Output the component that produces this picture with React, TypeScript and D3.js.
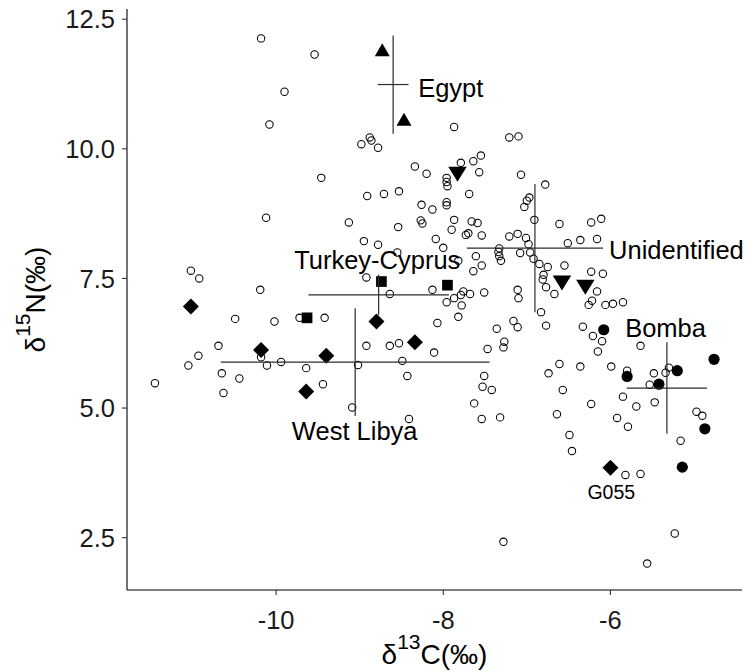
import React from 'react';
import * as d3 from 'd3';

const WIDTH = 746;
const HEIGHT = 672;
const M = { top: 9, right: 4, bottom: 82, left: 127 };

// Reference samples (open circles): δ13C and δ15N
const openC = [
  -10.18, -9.54, -9.90, -10.08, -9.46,
  -7.87, -8.98, -8.88, -8.86, -8.78,
  -7.21, -7.10, -7.55, -7.64, -7.79,
  -8.34, -8.20, -7.57, -7.96, -7.96,
  -7.95, -7.07, -6.78, -8.91, -8.71,
  -8.53, -7.69, -6.97, -7.00, -7.03,
  -8.26, -8.13, -7.96, -7.96, -9.13,
  -8.54, -8.27, -8.25, -7.87, -7.90,
  -7.66, -7.59, -7.73, -7.70, -7.54,
  -6.91, -6.61, -8.95, -8.78, -8.09,
  -8.00, -7.21, -7.11, -7.01, -6.98,
  -6.51, -6.36, -6.16, -6.23, -6.11,
  -7.33, -7.34, -7.33, -7.31, -7.08,
  -6.96, -6.92, -6.85, -6.75, -6.55,
  -8.55, -7.61, -7.54, -7.64, -7.82,
  -8.92, -6.80, -6.81, -6.77, -6.67,
  -8.13, -8.64, -7.76, -7.79, -7.87,
  -7.96, -7.68, -7.51, -7.78, -7.82,
  -7.11, -7.10, -6.83, -6.77, -8.07,
  -7.16, -7.11, -7.36, -7.27, -7.28,
  -7.47, -8.92, -8.64, -8.53, -8.11,
  -9.02, -8.49, -8.43, -7.51, -6.61,
  -6.74, -6.36, -6.23, -6.09, -6.16,
  -6.22, -6.26, -6.06, -5.97, -5.85,
  -6.33, -6.21, -6.10, -6.15, -5.64,
  -5.99, -5.80, -5.48, -5.34, -5.30,
  -10.12, -11.02, -10.92, -10.19, -10.49,
  -10.02, -9.72, -9.42, -10.69, -10.93,
  -11.05, -10.18, -10.11, -9.94, -9.64,
  -10.65, -10.44, -11.45, -10.63, -9.44,
  -9.09, -8.41, -7.53, -7.42, -7.63,
  -7.54, -7.32, -7.28, -6.57, -6.64,
  -6.49, -6.46, -5.85, -5.69, -5.47,
  -6.23, -5.92, -5.79, -5.53, -4.97,
  -4.90, -5.16, -5.82, -5.64, -5.23,
  -5.56,
];
const openN = [
  12.13, 11.82, 11.10, 10.47, 9.44,
  10.42, 10.09, 10.22, 10.16, 10.02,
  10.22, 10.24, 9.87, 9.76, 9.73,
  9.66, 9.52, 9.55, 9.44, 9.36,
  9.28, 9.50, 9.31, 9.09, 9.13,
  9.18, 9.13, 9.06, 9.00, 8.88,
  8.92, 8.83, 8.97, 8.91, 8.58,
  8.49, 8.62, 8.56, 8.63, 8.44,
  8.60, 8.57, 8.34, 8.37, 8.33,
  8.63, 8.55, 8.22, 8.15, 8.26,
  8.09, 8.31, 8.36, 8.28, 8.16,
  8.18, 8.24, 8.26, 8.58, 8.65,
  8.08, 8.01, 7.93, 7.84, 7.99,
  8.00, 7.88, 7.78, 7.72, 7.75,
  8.00, 7.93, 7.75, 7.64, 7.84,
  7.52, 7.57, 7.48, 7.33, 7.20,
  7.28, 7.20, 7.25, 7.18, 7.12,
  7.04, 7.20, 7.23, 6.98, 6.76,
  7.28, 7.12, 6.85, 6.59, 6.64,
  6.68, 6.56, 6.53, 6.28, 6.17,
  6.14, 6.20, 6.20, 6.25, 6.07,
  5.83, 5.91, 5.62, 5.62, 5.85,
  5.67, 5.80, 7.63, 7.59, 7.25,
  7.07, 6.99, 6.99, 7.01, 7.04,
  6.57, 6.39, 6.29, 6.09, 6.20,
  5.80, 5.72, 5.67, 5.68, 5.78,
  8.67, 7.65, 7.50, 7.28, 6.72,
  6.67, 6.74, 6.74, 6.20, 6.01,
  5.82, 5.98, 5.82, 5.89, 5.77,
  5.67, 5.57, 5.48, 5.29, 5.46,
  5.01, 4.79, 5.41, 5.35, 5.09,
  4.79, 4.82, 2.42, 5.35, 4.88,
  4.48, 4.17, 5.22, 5.03, 5.11,
  5.08, 4.81, 4.64, 5.45, 4.93,
  4.85, 4.37, 3.71, 3.73, 2.58,
  2.00,
];

// Known-origin groups
const egyptC = [-8.73, -8.47];
const egyptN = [11.91, 10.57];
const unidentifiedC = [-7.83, -6.58, -6.30];
const unidentifiedN = [9.51, 7.41, 7.33];
const turkeyCyprusC = [-9.63, -8.74, -7.95];
const turkeyCyprusN = [6.74, 7.44, 7.37];
const westLibyaC = [-11.02, -10.18, -9.40, -9.64, -8.80, -8.34, -6.00];
const westLibyaN = [6.96, 6.12, 6.01, 5.32, 6.67, 6.27, 3.85];
const bombaC = [-6.08, -5.80, -5.42, -5.20, -4.76, -4.87, -5.14];
const bombaN = [6.51, 5.61, 5.46, 5.72, 5.94, 4.60, 3.86];

// Text annotations
const labelText = ['Egypt', 'Unidentified', 'Turkey-Cyprus', 'West Libya', 'Bomba', 'G055'];
const labelC = [-7.91, -5.21, -8.79, -9.06, -5.34, -5.99];
const labelN = [11.17, 8.06, 7.86, 4.56, 6.54, 3.39];

const xTicks = [-10, -8, -6];
const yTicks = [2.5, 5, 7.5, 10, 12.5];

type Shape = 'circle' | 'triUp' | 'triDown' | 'square' | 'diamond';

const groups: { c: number[]; n: number[]; shape: Shape }[] = [
  { c: egyptC, n: egyptN, shape: 'triUp' },
  { c: unidentifiedC, n: unidentifiedN, shape: 'triDown' },
  { c: turkeyCyprusC, n: turkeyCyprusN, shape: 'square' },
  { c: westLibyaC, n: westLibyaN, shape: 'diamond' },
  { c: bombaC, n: bombaN, shape: 'circle' },
];

function shapePath(shape: Shape): string {
  switch (shape) {
    case 'triUp':
      return 'M0,-6.5L7.5,6.5L-7.5,6.5Z';
    case 'triDown':
      return 'M0,7.5L9.25,-7.5L-9.25,-7.5Z';
    case 'square':
      return 'M-5.35,-5.35H5.35V5.35H-5.35Z';
    case 'diamond':
      return 'M0,-8L8,0L0,8L-8,0Z';
    default:
      return d3.symbol(d3.symbolCircle, Math.PI * 5.6 * 5.6)() as string;
  }
}

const FONT = '"Liberation Sans", Arial, Helvetica, sans-serif';

export default function App() {
  const stats = groups.map((g) => ({
    mc: d3.mean(g.c) as number,
    mn: d3.mean(g.n) as number,
    sc: d3.deviation(g.c) as number,
    sn: d3.deviation(g.n) as number,
  }));

  const allC = [
    ...openC,
    ...groups.flatMap((g) => g.c),
    ...stats.flatMap((s) => [s.mc - s.sc, s.mc + s.sc]),
  ];
  const allN = [
    ...openN,
    ...groups.flatMap((g) => g.n),
    ...stats.flatMap((s) => [s.mn - s.sn, s.mn + s.sn]),
  ];
  const [c0, c1] = d3.extent(allC) as [number, number];
  const [n0, n1] = d3.extent(allN) as [number, number];
  const padC = (c1 - c0) * 0.05;
  const padN = (n1 - n0) * 0.05;

  const x = d3
    .scaleLinear()
    .domain([c0 - padC, c1 + padC])
    .range([M.left, WIDTH - M.right]);
  const y = d3
    .scaleLinear()
    .domain([n0 - padN, n1 + padN])
    .range([HEIGHT - M.bottom, M.top]);

  const [xl, xr] = x.range();
  const [yb, yt] = y.range();
  const fmtY = d3.format('.1f');

  return (
    <svg
      width={WIDTH}
      height={HEIGHT}
      style={{ position: 'absolute', left: 0, top: 0, background: '#fff' }}
      fontFamily={FONT}
    >
      <rect x={0} y={0} width={WIDTH} height={HEIGHT} fill="#fff" />

      {/* background samples */}
      <g fill="none" stroke="#000" strokeWidth={1.05}>
        {openC.map((c, i) => (
          <circle key={i} cx={x(c)} cy={y(openN[i])} r={3.7} />
        ))}
      </g>

      {/* group samples */}
      {groups.map((g, gi) => (
        <g key={gi} fill="#000">
          {g.c.map((c, i) => (
            <path key={i} d={shapePath(g.shape)} transform={`translate(${x(c)},${y(g.n[i])})`} />
          ))}
        </g>
      ))}

      {/* group mean ± SD crosses */}
      <g stroke="#2b2b2b" strokeWidth={1.2}>
        {stats.map((s, i) => (
          <g key={i}>
            <line x1={x(s.mc - s.sc)} x2={x(s.mc + s.sc)} y1={y(s.mn)} y2={y(s.mn)} />
            <line x1={x(s.mc)} x2={x(s.mc)} y1={y(s.mn - s.sn)} y2={y(s.mn + s.sn)} />
          </g>
        ))}
      </g>

      {/* annotations */}
      <g fill="#000" textAnchor="middle">
        {labelText.map((t, i) => (
          <text
            key={t}
            x={x(labelC[i])}
            y={y(labelN[i])}
            dy="0.36em"
            fontSize={t === 'G055' ? 19.5 : 25.5}
          >
            {t}
          </text>
        ))}
      </g>

      {/* axes */}
      <g stroke="#000" strokeWidth={1.1}>
        <line x1={xl} x2={xr} y1={yb} y2={yb} />
        <line x1={xl} x2={xl} y1={yb} y2={yt} />
        {xTicks.map((t) => (
          <line key={t} x1={x(t)} x2={x(t)} y1={yb} y2={yb + 5} stroke="#333" />
        ))}
        {yTicks.map((t) => (
          <line key={t} x1={xl - 5} x2={xl} y1={y(t)} y2={y(t)} stroke="#333" />
        ))}
      </g>
      <g fill="#1a1a1a" fontSize={25.5}>
        {xTicks.map((t) => (
          <text key={t} x={x(t)} y={yb + 38.5} textAnchor="middle">
            {t}
          </text>
        ))}
        {yTicks.map((t) => (
          <text key={t} x={xl - 12} y={y(t)} dy="0.36em" textAnchor="end">
            {fmtY(t)}
          </text>
        ))}
      </g>

      {/* axis titles */}
      <text x={(xl + xr) / 2} y={664} textAnchor="middle" fontSize={28} fill="#000">
        δ<tspan fontSize={21} dy={-15}>13</tspan>
        <tspan dy={15}>C(‰)</tspan>
      </text>
      <text
        transform={`translate(45,${(yb + yt) / 2}) rotate(-90)`}
        textAnchor="middle"
        fontSize={28}
        fill="#000"
      >
        δ<tspan fontSize={21} dy={-15}>15</tspan>
        <tspan dy={15}>N(‰)</tspan>
      </text>
    </svg>
  );
}
